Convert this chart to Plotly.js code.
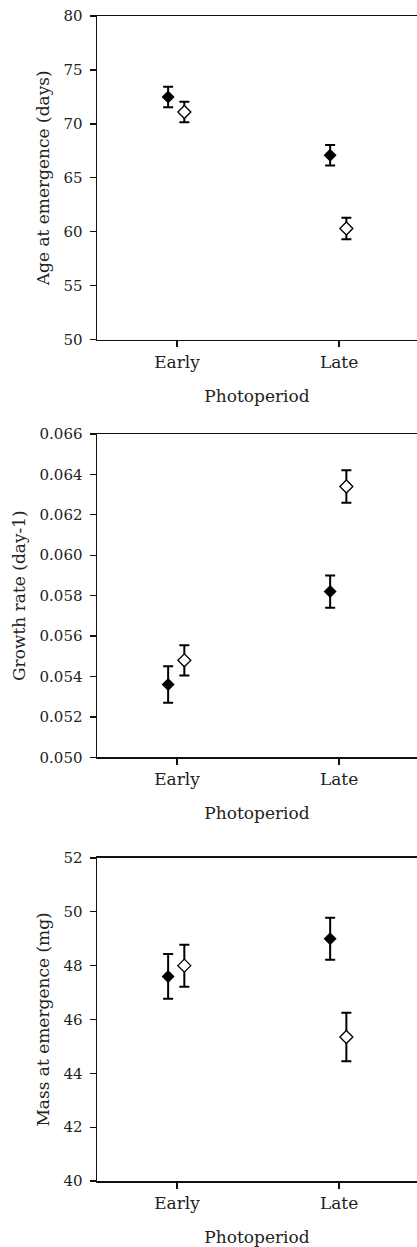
<!DOCTYPE html>
<html>
<head>
<meta charset="utf-8">
<script src="https://cdn.plot.ly/plotly-3.0.1.min.js"></script>
<style>
  html, body { margin: 0; padding: 0; background: #fff; overflow: hidden; }
  #chart { width: 417px; height: 1247px; }
</style>
</head>
<body>
<div id="chart"></div>
<script>
// ---- data ----
const categories = ['Early', 'Late'];

const ageFilled = [72.5, 67.1];
const ageFilledErr = [0.95, 0.95];
const ageOpen = [71.1, 60.3];
const ageOpenErr = [0.95, 1.0];

const growthFilled = [0.0536, 0.0582];
const growthFilledErr = [0.0009, 0.0008];
const growthOpen = [0.0548, 0.0634];
const growthOpenErr = [0.00075, 0.0008];

const massFilled = [47.6, 49.0];
const massFilledErr = [0.83, 0.78];
const massOpen = [48.0, 45.35];
const massOpenErr = [0.78, 0.9];

const yTitles = ['Age at emergence (days)', 'Growth rate (day-1)', 'Mass at emergence (mg)'];
const xTitle = 'Photoperiod';

// ---- styling ----
const FONT = 'DejaVu Serif, serif';
const TXT = '#222';
const filledOffset = -0.055;
const openOffset = 0.045;
const catIdx = categories.map((c, i) => i);

function makeTrace(vals, errs, offset, filled, ax) {
  return {
    type: 'scatter',
    mode: 'markers',
    x: catIdx.map(i => i + offset),
    y: vals,
    xaxis: 'x' + (ax === 1 ? '' : ax),
    yaxis: 'y' + (ax === 1 ? '' : ax),
    showlegend: false,
    marker: {
      symbol: 'diamond',
      size: 10,
      color: filled ? '#000' : '#fff',
      line: { color: '#000', width: filled ? 0 : 1.3 }
    },
    error_y: { type: 'data', array: errs, visible: true, color: '#000', thickness: 2, width: 5 }
  };
}

const data = [
  makeTrace(ageFilled, ageFilledErr, filledOffset, true, 1),
  makeTrace(ageOpen, ageOpenErr, openOffset, false, 1),
  makeTrace(growthFilled, growthFilledErr, filledOffset, true, 2),
  makeTrace(growthOpen, growthOpenErr, openOffset, false, 2),
  makeTrace(massFilled, massFilledErr, filledOffset, true, 3),
  makeTrace(massOpen, massOpenErr, openOffset, false, 3)
];

function xAxis(anchor) {
  return {
    anchor: anchor,
    domain: [0, 1],
    range: [-0.494, 1.481],
    tickvals: catIdx,
    ticktext: categories,
    showline: true, mirror: true, linecolor: '#111', linewidth: 1.5,
    ticks: 'outside', ticklen: 6, tickwidth: 1.3, tickcolor: '#111',
    showgrid: false, zeroline: false,
    tickfont: { family: FONT, size: 17, color: TXT },
    title: { text: xTitle, font: { family: FONT, size: 17, color: TXT }, standoff: 19 }
  };
}
function yAxis(anchor, domain, range, dtick, fmt, title) {
  return {
    anchor: anchor,
    domain: domain,
    range: range,
    dtick: dtick,
    tick0: range[0],
    tickformat: fmt,
    showline: true, mirror: false, linecolor: '#111', linewidth: 1.5,
    ticks: 'outside', ticklen: 6, tickwidth: 1.3, tickcolor: '#111',
    showgrid: false, zeroline: false,
    tickfont: { family: FONT, size: 15, color: TXT },
    ticklabelstandoff: 4,
    title: { text: title, font: { family: FONT, size: 17, color: TXT }, standoff: 9 }
  };
}

const layout = {
  width: 417, height: 1247,
  margin: { l: 97, r: 0, t: 16, b: 66 },
  paper_bgcolor: '#fff', plot_bgcolor: '#fff',
  xaxis: xAxis('y'),
  xaxis2: xAxis('y2'),
  xaxis3: xAxis('y3'),
  yaxis: yAxis('x', [0.7222, 1], [50, 80], 5, 'd', yTitles[0]),
  yaxis2: yAxis('x2', [0.3637, 0.6412], [0.050, 0.066], 0.002, '.3f', yTitles[1]),
  yaxis3: yAxis('x3', [0, 0.2773], [40, 52], 2, 'd', yTitles[2])
};

Plotly.newPlot('chart', data, layout, { staticPlot: true, displayModeBar: false });
</script>
</body>
</html>
